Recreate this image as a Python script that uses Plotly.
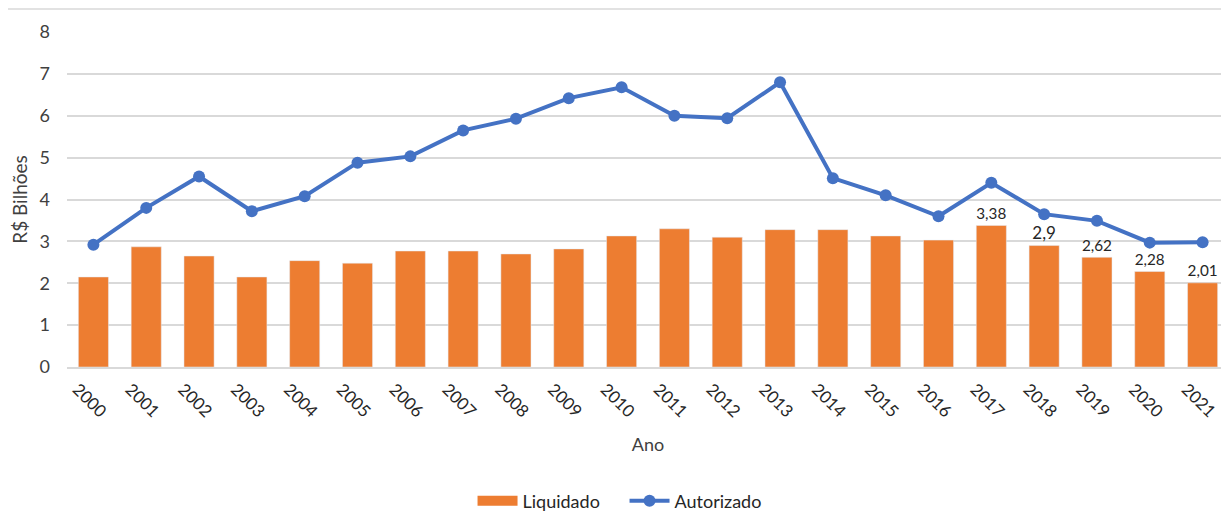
import plotly.graph_objects as go

anos = [str(y) for y in range(2000, 2022)]
liquidado = [2.15, 2.87, 2.65, 2.15, 2.54, 2.48, 2.77, 2.77, 2.70, 2.82, 3.13,
             3.30, 3.10, 3.28, 3.28, 3.13, 3.03, 3.38, 2.90, 2.62, 2.28, 2.01]
autorizado = [2.92, 3.80, 4.55, 3.72, 4.08, 4.88, 5.03, 5.65, 5.93, 6.42, 6.68,
              6.00, 5.94, 6.80, 4.51, 4.10, 3.60, 4.40, 3.65, 3.49, 2.97, 2.98]
rotulos = ["", "", "", "", "", "", "", "", "", "", "", "", "", "", "", "", "",
           "3,38", "2,9", "2,62", "2,28", "2,01"]

font_family = "Lato, 'Open Sans', sans-serif"
laranja = "#ED7D31"
azul = "#4472C4"

fig = go.Figure()
fig.add_trace(go.Bar(
    x=anos, y=liquidado, name="Liquidado", showlegend=False,
    marker=dict(color=laranja), width=0.57,
    text=rotulos, textposition="outside", cliponaxis=False,
    textfont=dict(size=17, color="#262626", family=font_family),
))
# legend entry for bars drawn as a wide rectangle
fig.add_trace(go.Scatter(
    x=[None], y=[None], name="Liquidado", mode="lines",
    line=dict(color=laranja, width=10),
))
fig.add_trace(go.Scatter(
    x=anos, y=autorizado, name="Autorizado", mode="lines+markers",
    line=dict(color=azul, width=4),
    marker=dict(color=azul, size=12),
))

# page body has an 8px default margin, so the figure is drawn 8px in and down
fig.update_layout(
    width=1221, height=520,
    margin=dict(l=59, r=0, t=24, b=161),
    paper_bgcolor="white", plot_bgcolor="white",
    font=dict(family=font_family, size=17, color="#404040"),
    legend=dict(orientation="h", x=0.349, xanchor="left", y=-0.4, yanchor="middle",
                font=dict(size=18, color="#262626"), itemwidth=40, tracegroupgap=0,
                entrywidth=97, entrywidthmode="pixels"),
    xaxis=dict(
        type="category", tickangle=45, showgrid=False, automargin=False,
        range=[-0.5, 21.5],
        showline=True, linecolor="#D9D9D9", linewidth=1.5,
        tickfont=dict(size=17, color="#262626"),
        ticklabelshift=-16, ticklabelstandoff=4,
        title=dict(text="Ano", font=dict(size=18, color="#404040"), standoff=18),
    ),
    yaxis=dict(
        range=[0, 8], dtick=1, showgrid=True, gridcolor="#D9D9D9", gridwidth=1.5,
        zeroline=False, tickfont=dict(size=18, color="#404040"), automargin=False,
        ticklabelstandoff=16,
        title=dict(text="R$ Bilhões", font=dict(size=19, color="#404040"), standoff=6),
    ),
    shapes=[dict(type="line", xref="paper", yref="paper", x0=-0.06, x1=1.01,
                 y0=1.069, y1=1.069, line=dict(color="#D9D9D9", width=1.5))],
)

fig.write_html("out.html")
